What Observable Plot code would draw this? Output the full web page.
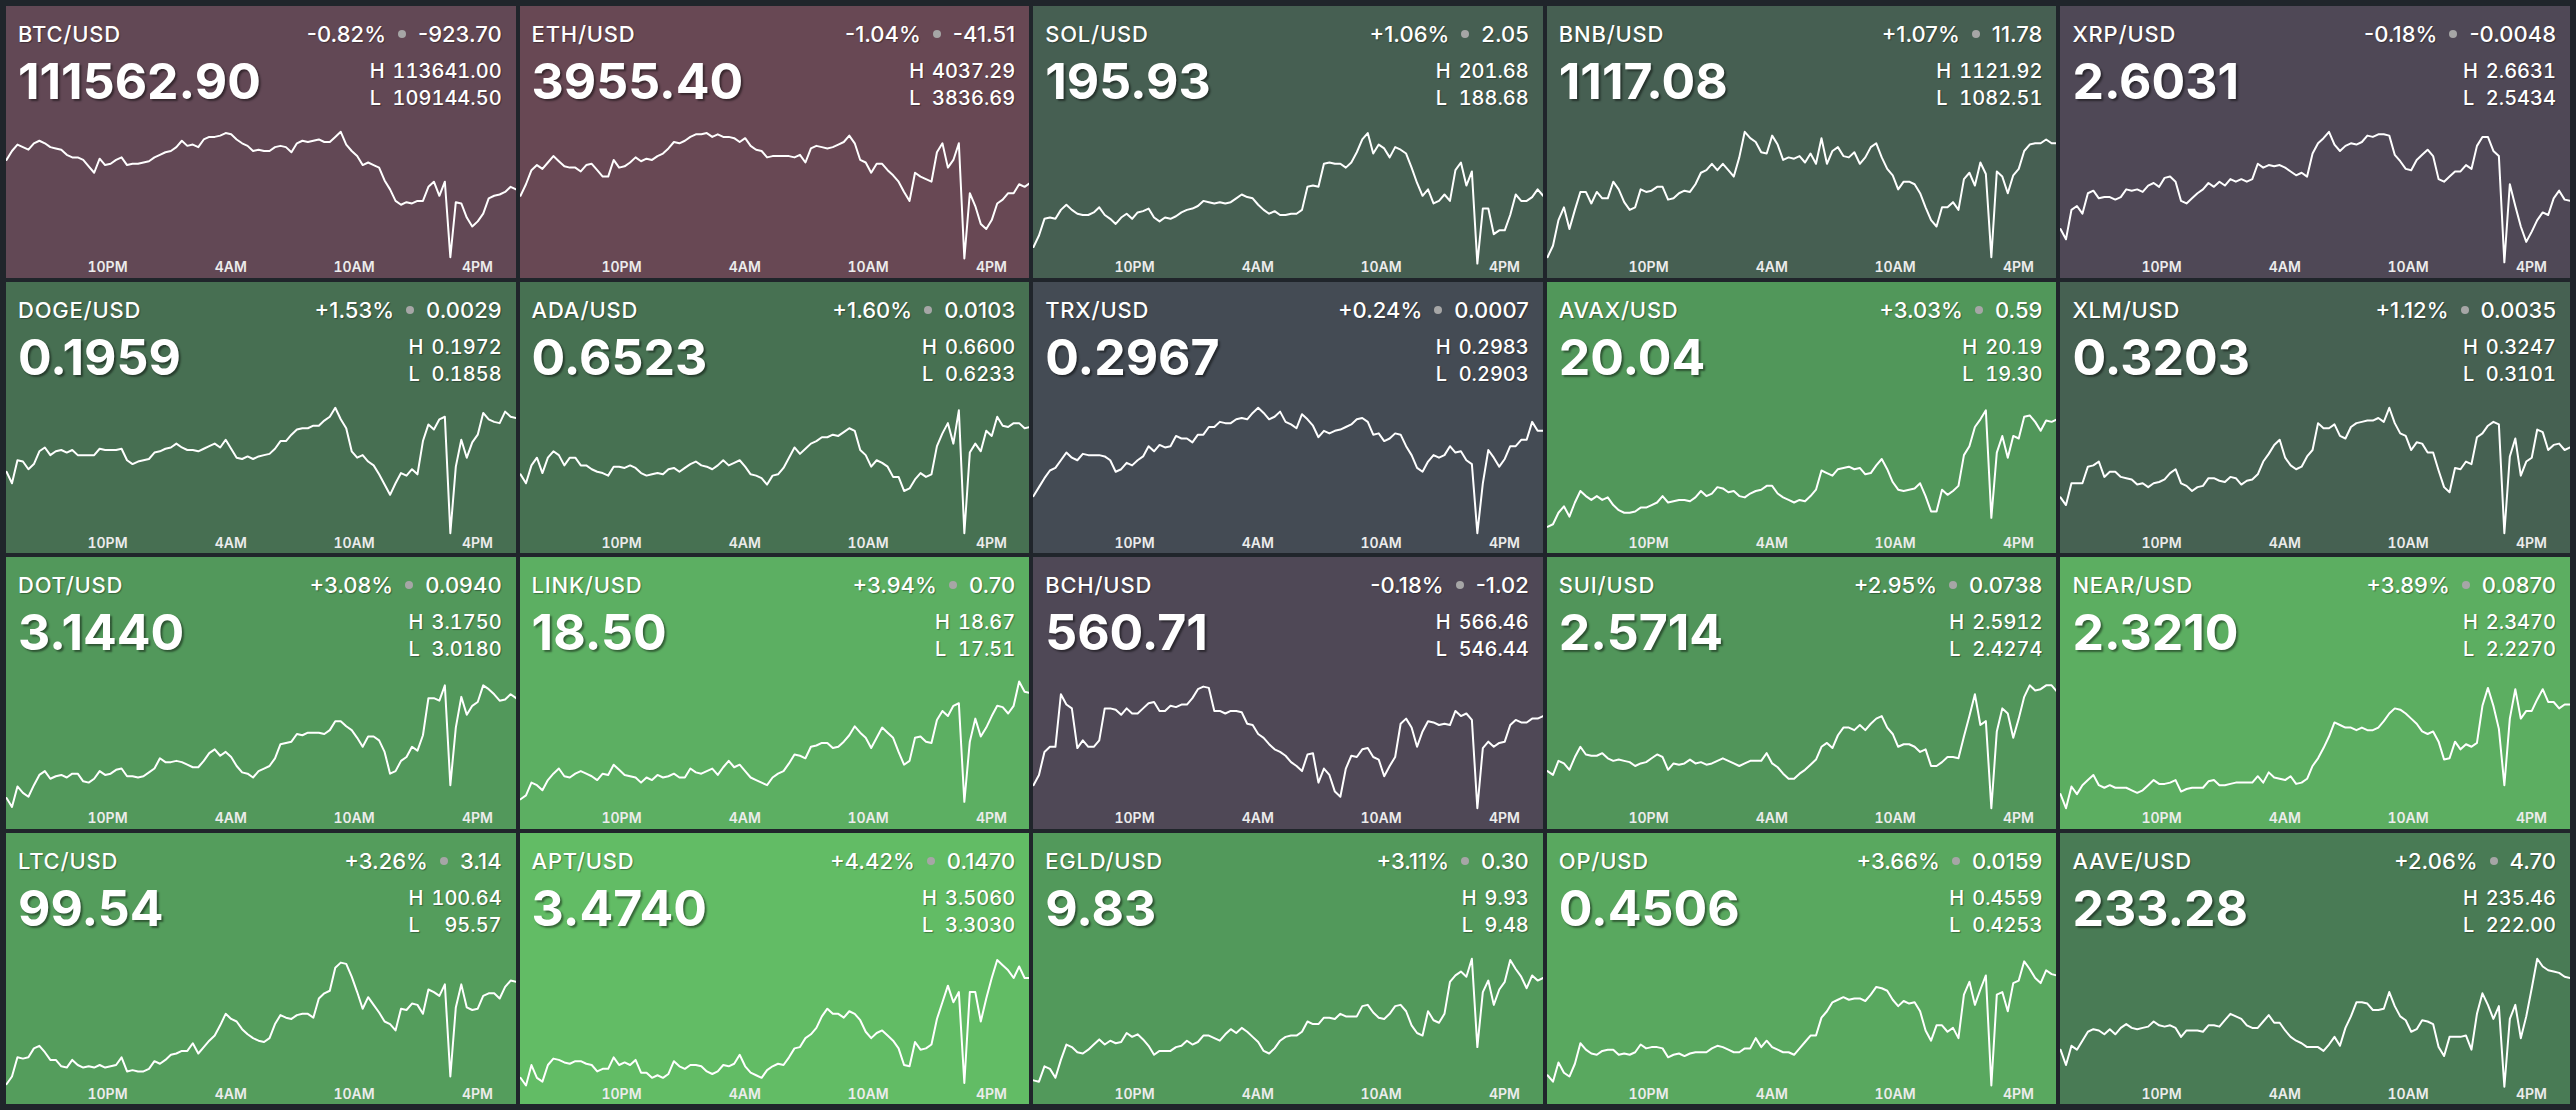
<!DOCTYPE html>
<html>
<head>
<meta charset="utf-8">
<script src="https://cdn.jsdelivr.net/npm/d3@7"></script>
<script src="https://cdn.jsdelivr.net/npm/@observablehq/plot@0.6"></script>
<style>
html, body { margin: 0; padding: 0; background: #20252b; overflow: hidden; }
#grid {
  box-sizing: border-box; width: 2576px; height: 1110px; padding: 6px;
  display: grid; grid-template-columns: repeat(5, 1fr); grid-template-rows: repeat(4, 1fr); gap: 4px;
  font-family: Inter, "Noto Sans", sans-serif; color: #fff;
}
.tile { position: relative; overflow: hidden; }
.tile svg { position: absolute; left: 0; top: 0; }
.pair { position: absolute; left: 12px; top: 17px; font-size: 22px; line-height: 1; font-weight: 500;
  letter-spacing: 0.035em; text-shadow: 1px 1px 1px rgba(0,0,0,0.35); white-space: nowrap; }
.chg { position: absolute; right: 14px; top: 17px; font-size: 22px; line-height: 1; font-weight: 500;
  display: flex; align-items: center; text-shadow: 1px 1px 1px rgba(0,0,0,0.35); white-space: nowrap; }
.dot { display: inline-block; width: 8px; height: 8px; border-radius: 50%; background: #a6a6a6; margin: 0 12px; }
.price { position: absolute; left: 12px; top: 50px; font-size: 50px; line-height: 1; font-weight: 700;
  text-shadow: 2px 2px 2px rgba(0,0,0,0.45); white-space: nowrap; }
.hl { position: absolute; right: 14px; top: 52px; display: grid; grid-template-columns: auto auto; column-gap: 8px;
  font-size: 20px; line-height: 27.4px; font-weight: 500; font-variant-numeric: tabular-nums;
  text-shadow: 1px 1px 1px rgba(0,0,0,0.35); white-space: nowrap; }
.hl span:nth-child(even) { text-align: right; }
</style>
</head>
<body>
<div id="grid"></div>
<script>
// ---- tile data ----
const pairs = ["BTC/USD","ETH/USD","SOL/USD","BNB/USD","XRP/USD","DOGE/USD","ADA/USD","TRX/USD","AVAX/USD","XLM/USD",
               "DOT/USD","LINK/USD","BCH/USD","SUI/USD","NEAR/USD","LTC/USD","APT/USD","EGLD/USD","OP/USD","AAVE/USD"];
const lastPrices = [111562.90, 3955.40, 195.93, 1117.08, 2.6031, 0.1959, 0.6523, 0.2967, 20.04, 0.3203,
                    3.1440, 18.50, 560.71, 2.5714, 2.3210, 99.54, 3.4740, 9.83, 0.4506, 233.28];
const changePcts = [-0.82, -1.04, 1.06, 1.07, -0.18, 1.53, 1.60, 0.24, 3.03, 1.12,
                    3.08, 3.94, -0.18, 2.95, 3.89, 3.26, 4.42, 3.11, 3.66, 2.06];
const changeAbs = [-923.70, -41.51, 2.05, 11.78, -0.0048, 0.0029, 0.0103, 0.0007, 0.59, 0.0035,
                   0.0940, 0.70, -1.02, 0.0738, 0.0870, 3.14, 0.1470, 0.30, 0.0159, 4.70];
const highs = [113641.00, 4037.29, 201.68, 1121.92, 2.6631, 0.1972, 0.6600, 0.2983, 20.19, 0.3247,
               3.1750, 18.67, 566.46, 2.5912, 2.3470, 100.64, 3.5060, 9.93, 0.4559, 235.46];
const lows = [109144.50, 3836.69, 188.68, 1082.51, 2.5434, 0.1858, 0.6233, 0.2903, 19.30, 0.3101,
              3.0180, 17.51, 546.44, 2.4274, 2.2270, 95.57, 3.3030, 9.48, 0.4253, 222.00];
const decimals = [2,2,2,2,4,4,4,4,2,4, 4,2,2,4,4,2,4,2,4,2];

// x-axis tick labels: 10PM, 4AM, 10AM, 4PM
const tickTimes = [Date.UTC(2025,9,27,22), Date.UTC(2025,9,28,4), Date.UTC(2025,9,28,10), Date.UTC(2025,9,28,16)].map(t => new Date(t));
const startTime = Date.UTC(2025,9,27,17,5);   // first sample
const sampleMinutes = 16;                      // spacing of the readings

const btcTrace = [77,84,89,87,85,90,92,90,87,86,85,81,79,79,77,72,67,78,73,74,77,79,73,74,74,75,76,79,81,83,84,87,92,88,89,87,93,95,95,96,98,97,93,90,88,84,85,84,84,87,88,87,83,90,92,91,92,93,91,91,95,99,89,84,80,73,75,73,71,61,54,45,42,44,43,45,45,56,60,49,60,1,44,43,32,25,29,35,47,49,50,52,56,54];
const ethTrace = [49,58,69,73,70,75,80,76,72,71,71,68,73,74,69,64,64,77,71,72,75,79,76,78,77,80,82,86,91,90,92,95,97,97,98,95,97,95,95,94,91,94,88,85,84,79,80,80,80,80,79,81,75,86,88,87,86,87,89,91,96,90,77,75,67,74,74,69,65,60,52,45,67,64,62,60,83,90,71,77,90,0,51,41,27,23,30,43,46,51,51,58,56,59];
const solTrace = [9,18,31,32,31,38,42,38,35,34,34,36,40,34,31,27,32,35,31,36,37,39,32,29,32,31,33,36,38,39,41,45,44,43,44,43,44,47,50,48,47,42,38,35,37,34,34,35,35,38,56,57,56,74,75,74,74,71,75,83,93,98,82,89,86,79,87,85,82,71,59,49,54,43,45,50,45,69,75,57,68,-4,39,39,19,22,22,34,50,45,45,48,54,49];
const bnbTrace = [1,10,30,40,23,38,52,52,43,52,47,47,60,54,44,38,40,54,52,53,56,56,46,47,51,53,52,58,67,69,74,69,74,69,64,79,99,94,91,83,82,96,89,77,79,78,80,75,82,74,94,74,84,87,80,79,83,74,79,87,90,79,70,65,54,60,60,58,51,40,30,25,40,40,44,38,62,67,57,75,66,1,68,64,51,65,70,84,89,90,90,93,90,90];
const xrpTrace = [23,15,38,41,35,51,53,47,48,48,46,48,54,53,54,52,57,59,56,63,64,60,45,43,47,51,54,59,56,60,57,62,60,62,60,62,74,71,73,72,73,71,68,65,67,64,82,90,94,99,89,84,88,90,89,91,96,95,97,97,96,81,76,70,69,77,81,85,80,62,60,64,68,68,73,70,88,95,95,84,80,-3,58,41,25,13,21,30,36,34,47,53,46,45];
const dogeTrace = [49,40,58,57,51,55,65,68,62,65,66,64,66,62,62,62,62,67,66,66,66,67,58,55,57,58,59,64,65,67,68,71,68,66,66,65,67,69,71,68,74,67,60,59,61,59,61,62,63,67,73,73,78,82,83,83,85,85,89,92,99,90,83,65,60,62,57,54,47,39,31,40,48,46,51,47,73,86,82,90,92,1,53,74,60,72,78,95,90,88,87,96,92,91];
const adaTrace = [47,40,54,60,48,60,65,62,54,60,60,54,54,51,49,48,46,53,53,52,54,52,48,46,47,48,47,51,52,49,52,55,57,54,53,51,54,58,54,56,58,53,47,46,44,39,46,47,52,60,68,63,67,71,73,76,76,78,77,80,83,81,66,62,53,58,56,53,45,45,34,36,43,48,45,47,69,79,87,71,97,1,64,71,65,81,77,92,85,84,87,87,83,84];
const trxTrace = [30,37,44,50,52,58,64,60,58,63,62,62,62,61,58,49,51,56,54,58,61,69,65,70,68,69,77,75,75,72,78,78,84,84,88,87,87,90,91,90,95,99,95,90,92,96,88,86,83,94,90,85,76,81,79,81,82,84,86,90,91,88,78,79,73,75,79,78,69,62,52,49,57,62,60,62,69,64,65,58,55,1,40,66,60,53,59,69,69,74,74,88,81,81];
const avaxTrace = [6,8,17,22,14,25,34,30,27,30,27,29,23,19,17,17,18,21,21,23,25,30,25,26,27,27,26,29,34,30,32,37,36,33,34,30,29,32,34,35,38,38,32,29,27,25,27,26,30,35,50,48,46,51,52,53,51,52,47,48,54,59,51,41,35,34,35,36,40,30,18,18,35,31,34,38,62,69,84,90,97,13,64,77,60,77,75,92,93,88,81,89,88,90];
const xlmTrace = [29,23,40,40,40,53,54,57,45,49,49,45,44,43,39,40,37,40,41,43,48,51,40,38,34,37,38,44,44,42,41,45,44,39,42,43,47,57,63,70,74,60,54,51,53,61,66,87,83,83,86,77,75,84,87,88,89,89,91,88,99,87,79,77,66,72,71,64,64,50,37,33,52,51,57,55,76,79,85,88,86,1,61,75,46,57,60,82,80,66,70,71,66,68];
const dotTrace = [9,2,18,13,10,19,27,30,24,26,27,25,28,28,22,21,24,30,27,28,31,32,26,26,25,26,29,32,40,37,37,38,37,35,33,33,38,44,47,42,45,41,34,29,28,25,30,32,34,40,51,52,53,59,58,60,60,60,59,62,69,69,65,62,56,49,57,57,54,45,28,30,38,41,49,46,58,87,87,85,97,19,64,88,74,81,84,97,94,90,85,86,90,87];
const linkTrace = [8,11,21,19,15,23,28,32,26,25,28,30,28,26,23,28,27,35,31,27,26,25,21,25,23,27,25,26,28,25,25,32,29,28,30,32,27,33,38,33,35,30,25,23,21,19,25,28,30,36,43,42,40,49,50,52,52,48,49,53,58,65,60,56,48,56,64,60,56,45,35,38,56,57,53,52,70,77,73,81,83,6,53,71,57,64,73,81,80,75,81,100,92,91];
const bchTrace = [19,27,45,49,49,90,82,79,48,54,49,49,54,79,79,78,74,79,75,75,79,83,84,77,77,81,80,82,82,87,94,96,95,77,77,75,77,77,76,67,66,59,56,51,47,45,42,37,34,30,43,44,21,32,27,14,10,32,42,41,47,48,41,39,26,34,41,67,71,64,49,61,69,68,66,67,66,77,73,75,70,1,48,53,49,52,53,66,70,68,68,71,71,73];
const suiTrace = [30,27,38,36,31,41,49,43,42,42,44,40,38,39,38,37,34,36,37,40,43,41,31,36,35,36,39,36,37,35,36,38,40,38,36,34,36,38,38,38,44,36,33,28,24,24,28,31,35,39,49,52,48,58,64,64,62,66,62,67,71,73,64,59,49,51,51,49,45,47,34,34,37,41,41,40,57,73,90,66,69,1,61,79,75,56,71,88,97,93,94,97,97,92];
const nearTrace = [12,1,18,12,19,23,27,19,17,19,17,17,17,15,13,15,19,23,20,20,21,23,14,16,17,17,17,22,23,19,19,20,21,21,21,21,26,21,29,25,24,23,26,20,21,24,34,40,48,57,68,66,64,64,62,64,62,62,64,69,75,79,78,75,71,67,61,59,61,53,39,40,53,47,51,49,52,81,95,81,63,19,71,94,71,77,77,86,94,84,84,79,82,82];
const ltcTrace = [1,7,22,21,22,29,31,26,20,20,15,14,20,16,14,15,14,16,14,15,16,22,11,12,11,11,13,19,17,20,24,25,27,27,33,25,30,35,39,47,56,52,50,44,40,37,35,34,37,48,55,53,52,55,56,56,53,68,72,74,92,96,95,85,73,60,69,63,57,50,48,43,60,59,64,63,56,75,73,70,79,7,61,79,61,59,60,70,72,72,68,77,82,81];
const aptTrace = [6,0,16,6,3,16,21,20,18,17,19,19,17,16,11,13,13,22,16,18,16,20,10,10,6,8,6,9,19,15,13,16,16,15,11,9,11,16,15,17,24,15,10,8,6,12,15,17,16,22,29,30,37,40,45,54,60,56,56,53,58,56,51,42,37,41,43,39,35,29,16,15,34,28,29,32,52,65,78,65,73,2,73,73,50,68,84,98,94,90,84,93,84,84];
const egldTrace = [4,3,15,13,6,20,32,30,26,25,28,32,36,32,35,33,34,41,38,40,36,31,24,27,27,27,30,31,35,32,34,39,39,37,35,40,44,41,45,42,38,34,27,25,29,35,38,39,39,42,50,48,48,53,53,52,56,54,54,54,62,63,57,53,52,56,62,63,58,47,41,39,58,51,49,56,81,86,89,85,99,30,73,82,63,75,81,98,91,85,76,86,82,84];
const opTrace = [8,3,18,10,7,17,33,28,25,24,27,28,28,24,25,24,26,32,29,30,30,29,22,24,25,23,25,26,26,26,29,31,30,28,26,26,29,29,37,30,35,30,28,26,26,24,29,34,39,39,53,58,65,67,69,67,68,68,66,71,77,76,74,67,62,66,64,65,58,43,35,47,47,42,45,37,71,81,63,75,86,0,71,73,58,80,82,97,91,84,80,90,87,86];
const aaveTrace = [28,16,31,28,35,42,44,43,40,44,40,45,48,45,44,45,46,50,47,46,47,45,38,43,43,43,42,47,47,46,51,56,54,52,47,45,45,50,55,49,49,43,38,35,33,30,30,30,27,32,38,31,45,54,65,65,64,59,59,60,73,62,54,51,42,44,51,50,48,30,23,38,38,38,39,28,56,72,63,52,62,-1,52,63,37,54,76,99,93,90,89,88,85,84];

const traces = [btcTrace, ethTrace, solTrace, bnbTrace, xrpTrace, dogeTrace, adaTrace, trxTrace, avaxTrace, xlmTrace,
                dotTrace, linkTrace, bchTrace, suiTrace, nearTrace, ltcTrace, aptTrace, egldTrace, opTrace, aaveTrace];

// ---- styling ----
const tileColor = d3.scaleLinear()
  .domain([-1.1, -0.2, 0.25, 1.1, 1.55, 2.1, 3.0, 4.5])
  .range(["#6a4854", "#4f4856", "#444b54", "#466052", "#477052", "#497c55", "#51965a", "#63be66"])
  .clamp(true);
const chartTop = 124, chartBottom = 252;
const fmtTime = d3.utcFormat("%-I%p");

const grid = document.getElementById("grid");
pairs.forEach((pair, k) => {
  const d = decimals[k];
  const tile = document.createElement("div");
  tile.className = "tile";
  tile.style.background = tileColor(changePcts[k]);
  const pct = (changePcts[k] > 0 ? "+" : "") + changePcts[k].toFixed(2) + "%";
  tile.innerHTML =
    `<div class="pair">${pair}</div>` +
    `<div class="chg"><span>${pct}</span><i class="dot"></i><span>${changeAbs[k].toFixed(d)}</span></div>` +
    `<div class="price">${lastPrices[k].toFixed(d)}</div>` +
    `<div class="hl"><span>H</span><span>${highs[k].toFixed(d)}</span><span>L</span><span>${lows[k].toFixed(d)}</span></div>`;
  grid.appendChild(tile);
});

document.querySelectorAll(".tile").forEach((tile, k) => {
  const {width, height} = tile.getBoundingClientRect();
  const lo = lows[k], hi = highs[k];
  const rows = traces[k].map((p, i) => ({
    t: new Date(startTime + i * sampleMinutes * 60000),
    price: lo + (p / 100) * (hi - lo)
  }));
  const chart = Plot.plot({
    width, height,
    marginTop: chartTop, marginBottom: height - chartBottom, marginLeft: 0, marginRight: 0,
    style: {background: "transparent", fontFamily: "Inter, sans-serif", fontSize: "14px", fontWeight: "600", color: "#ececec", overflow: "visible"},
    x: {type: "utc", domain: [rows[0].t, rows[rows.length - 1].t]},
    y: {domain: [lo, hi], axis: null},
    marks: [
      Plot.axisX({ticks: tickTimes, tickFormat: fmtTime, tickSize: 0, tickPadding: 3.5, label: null,
                  fontSize: 14, fontWeight: 600, fontFamily: "Inter, sans-serif", fill: "#ececec"}),
      Plot.line(rows, {x: "t", y: "price", stroke: "#ffffff", strokeWidth: 2, strokeLinejoin: "round"})
    ]
  });
  tile.insertBefore(chart, tile.firstChild);
});
</script>
</body>
</html>
